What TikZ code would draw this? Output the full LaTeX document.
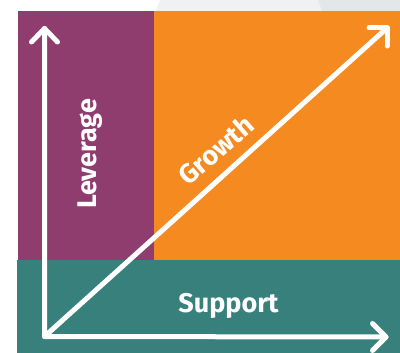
\documentclass[tikz,border=0pt]{standalone}
\usepackage{fontspec}
\setmainfont{Fira Sans}
\definecolor{plum}{HTML}{8F3D6E}
\definecolor{amber}{HTML}{F58B20}
\definecolor{tealb}{HTML}{38807C}
\definecolor{paleA}{HTML}{EFF1F2}
\definecolor{paleB}{HTML}{E3E7EA}
\tikzset{
  axisline/.style={draw=white,line width=5pt,line cap=round,line join=round},
  lbl/.style={text=white,font=\bfseries\fontsize{27}{27}\selectfont,inner sep=0pt},
}
\begin{document}
\begin{tikzpicture}[x=1pt,y=-1pt]
\useasboundingbox (0,0) rectangle (400,353);
\fill[white] (0,0) rectangle (400,353);
\fill[paleA] (156,11) -- (160,0) -- (318,0) -- (322,11) -- cycle;
\fill[paleB] (322,11) -- (318,0) -- (400,0) -- (400,11) -- cycle;
\fill[plum] (18,11) rectangle (154,260);
\fill[amber] (154,11) rectangle (400,260);
\fill[tealb] (17,260) rectangle (400,353);
\coordinate (o) at (44.5,336.5);
\coordinate (up) at (44.5,28.5);
\coordinate (rt) at (386,337);
\coordinate (dg) at (387,28);
\draw[axisline] (up) -- (o) -- (rt);
\draw[axisline] (o) -- (dg);
\draw[axisline] (31.5,42) -- (up) -- (57.5,42);
\draw[axisline] (372.5,323.5) -- (rt) -- (372.5,350.5);
\draw[axisline] (369,28) -- (dg) -- (387,46);
\node[lbl,rotate=90] (lev) at (90,154) {Leverage};
\node[lbl,rotate=41] (gro) at (216,150) {Growth};
\node[lbl] (sup) at (228.5,306) {Support};
\end{tikzpicture}
\end{document}
